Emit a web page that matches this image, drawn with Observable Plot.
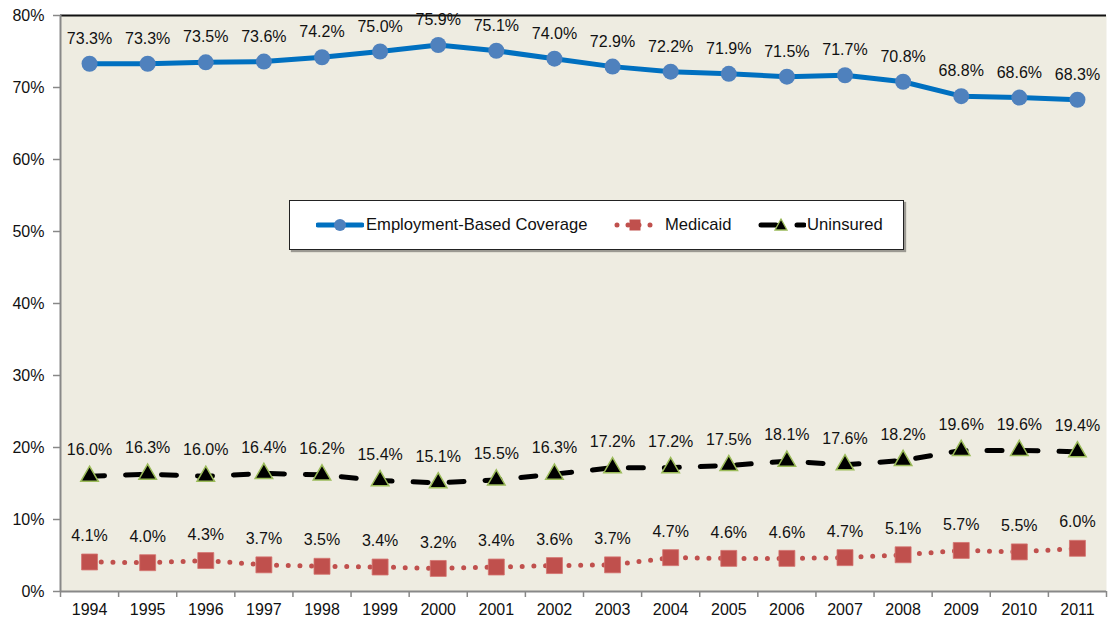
<!DOCTYPE html>
<html>
<head>
<meta charset="utf-8">
<script src="https://cdn.jsdelivr.net/npm/d3@7"></script>
<script src="https://cdn.jsdelivr.net/npm/@observablehq/plot@0.6"></script>
<style>
  html, body { margin: 0; padding: 0; background: #fff; }
  #wrap { position: relative; width: 1108px; height: 620px; font-family: Arial, "Liberation Sans", sans-serif; }
  #legend {
    position: absolute; left: 289px; top: 200px; width: 613px; height: 48px;
    background: #fff; border: 1px solid #222; box-shadow: 2px 2px 1px rgba(0,0,0,0.35);
    font-size: 16.6px; color: #111;
  }
  #legend .item { position: absolute; top: 0; height: 48px; display: flex; align-items: center; }
  #legend svg { display: block; }
</style>
</head>
<body>
<div id="wrap"></div>
<script>
const years = [1994,1995,1996,1997,1998,1999,2000,2001,2002,2003,2004,2005,2006,2007,2008,2009,2010,2011];
const employment = [73.3,73.3,73.5,73.6,74.2,75.0,75.9,75.1,74.0,72.9,72.2,71.9,71.5,71.7,70.8,68.8,68.6,68.3];
const medicaid = [4.1,4.0,4.3,3.7,3.5,3.4,3.2,3.4,3.6,3.7,4.7,4.6,4.6,4.7,5.1,5.7,5.5,6.0];
const uninsured = [16.0,16.3,16.0,16.4,16.2,15.4,15.1,15.5,16.3,17.2,17.2,17.5,18.1,17.6,18.2,19.6,19.6,19.4];
const yTicks = [0,10,20,30,40,50,60,70,80];
const seriesNames = ["Employment-Based Coverage","Medicaid","Uninsured"];

const emp = years.map((y,i)=>({year:y, v:employment[i]}));
const med = years.map((y,i)=>({year:y, v:medicaid[i]}));
const uni = years.map((y,i)=>({year:y, v:uninsured[i]}));
const boundaries = d3.range(years[0]-0.5, years[years.length-1]+1, 1);

const bg = "#EEECE1";
const blueLine = "#0070C0", blueDot = "#4F81BD";
const red = "#C0504D";
const green = "#9BBB59";
const labelFont = {fontSize: 16, fill: "#111"};

const chart = Plot.plot({
  width: 1108, height: 620,
  marginLeft: 60, marginRight: 2, marginTop: 15, marginBottom: 29,
  style: {fontFamily: "Arial, 'Liberation Sans', sans-serif", fontSize: "16px", color: "#111", background: "transparent"},
  x: {type: "linear", domain: [years[0]-0.5, years[years.length-1]+0.5]},
  y: {domain: [0, 80]},
  marks: [
    Plot.frame({fill: bg, stroke: null}),
    Plot.ruleY([80], {stroke: "#111", strokeWidth: 2}),
    Plot.ruleX([years[0]-0.5], {stroke: "#888", strokeWidth: 2}),
    Plot.ruleY([0], {stroke: "#888", strokeWidth: 2}),
    Plot.axisY({ticks: yTicks, tickFormat: d => d + "%", tickSize: 7, tickPadding: 9, stroke: "#888", strokeWidth: 1.5, fill: "#111", fontSize: 16, label: null}),
    Plot.axisX({ticks: boundaries, tickFormat: () => "", tickSize: 6, stroke: "#888", strokeWidth: 1.5, label: null}),
    Plot.axisX({ticks: years, tickFormat: d => String(d), tickSize: 0, tickPadding: 12, fill: "#111", fontSize: 16, label: null}),
    // Employment-based
    Plot.line(emp, {x: "year", y: "v", stroke: blueLine, strokeWidth: 5}),
    Plot.dot(emp, {x: "year", y: "v", r: 8, fill: blueDot, stroke: null}),
    Plot.text(emp, {x: "year", y: "v", text: d => d.v.toFixed(1) + "%", dy: -25, ...labelFont}),
    // Medicaid
    Plot.line(med, {x: "year", y: "v", stroke: red, strokeWidth: 5, strokeDasharray: "0 11.7", strokeLinecap: "round"}),
    Plot.dot(med, {x: "year", y: "v", symbol: "square", r: 9, fill: red, stroke: "#D4726F", strokeWidth: 0.8}),
    Plot.text(med, {x: "year", y: "v", text: d => d.v.toFixed(1) + "%", dy: -26, ...labelFont}),
    // Uninsured
    Plot.line(uni, {x: "year", y: "v", stroke: "#000", strokeWidth: 5, strokeDasharray: "15 21", strokeLinecap: "round"}),
    Plot.dot(uni, {x: "year", y: "v", symbol: "triangle", r: 6.5, fill: "#000", stroke: green, strokeWidth: 1.5}),
    Plot.text(uni, {x: "year", y: "v", text: d => d.v.toFixed(1) + "%", dy: -26, ...labelFont})
  ]
});

const wrap = document.getElementById("wrap");
wrap.appendChild(chart);

const legend = document.createElement("div");
legend.id = "legend";
legend.innerHTML = `
  <div class="item" style="left:26px">
    <svg width="48" height="20"><line x1="2" y1="10" x2="46" y2="10" stroke="${blueLine}" stroke-width="5" stroke-linecap="round"/><circle cx="24" cy="10" r="6" fill="${blueDot}"/></svg>
    <span style="margin-left:2px">${seriesNames[0]}</span>
  </div>
  <div class="item" style="left:324px">
    <svg width="44" height="20"><line x1="3" y1="10" x2="42" y2="10" stroke="${red}" stroke-width="5" stroke-dasharray="0 11" stroke-linecap="round"/><rect x="15.5" y="4.5" width="11" height="11" fill="${red}"/></svg>
    <span style="margin-left:7px">${seriesNames[1]}</span>
  </div>
  <div class="item" style="left:468px">
    <svg width="48" height="20"><line x1="3" y1="10" x2="46" y2="10" stroke="#000" stroke-width="5" stroke-dasharray="15 21" stroke-linecap="round"/><path d="M23,4 L29,15 L17,15 Z" fill="#000" stroke="${green}" stroke-width="1.3"/></svg>
    <span style="margin-left:1px">${seriesNames[2]}</span>
  </div>`;
wrap.appendChild(legend);
</script>
</body>
</html>
